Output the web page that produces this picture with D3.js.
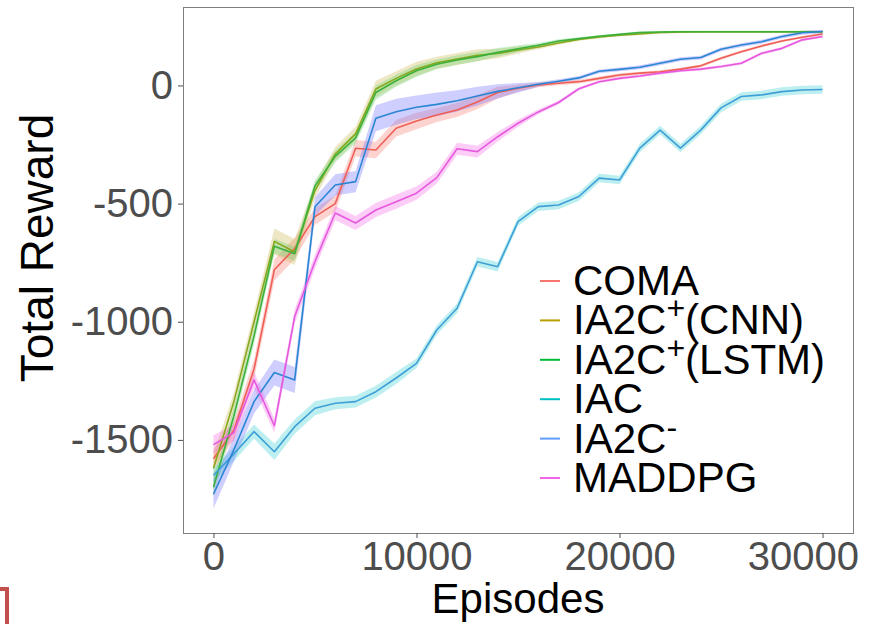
<!DOCTYPE html>
<html lang="en">
<head>
<meta charset="utf-8"/>
<title>Total Reward vs Episodes</title>
<style>
  body { margin: 0; background: #fff; }
  text { font-family: "Liberation Sans", Arial, Helvetica, sans-serif; }
  .axis .domain { display: none; }
  .axis line { stroke: #4d4d4d; stroke-width: 1px; }
  .axis text { fill: #4d4d4d; font-size: 40px; }
</style>
</head>
<body>
<script src="https://d3js.org/d3.v7.min.js"></script>
<div id="chart"></div>
<script>
// ---- data (one point every 1000 episodes) ----
var episodes = [0, 1000, 2000, 3000, 4000, 5000, 6000, 7000, 8000, 9000, 10000,
  11000, 12000, 13000, 14000, 15000, 16000, 17000, 18000, 19000, 20000,
  21000, 22000, 23000, 24000, 25000, 26000, 27000, 28000, 29000, 30000];

var coma = [-1580, -1460, -1200, -780, -690, -555, -500, -266, -273, -181, -150,
  -125, -104, -70, -30, -12, 2, 9, 16, 30, 44, 52, 58, 69, 83, 115, 143, 167, 188, 204, 218];
var comaSpread = [40, 40, 40, 45, 45, 35, 35, 35, 35, 35, 35, 30, 30, 30, 25, 15,
  10, 8, 8, 8, 8, 6, 6, 6, 6, 6, 6, 6, 5, 5, 5];

var cnn = [-1620, -1340, -1000, -660, -705, -445, -290, -205, -15, 30, 70,
  96, 112, 128, 135, 150, 163, 180, 195, 205, 213, 218, 224, 226, 227, 227, 227, 227, 227, 227, 227];
var cnnSpread = [60, 40, 40, 55, 55, 30, 30, 30, 35, 30, 30, 25, 25, 25, 20, 15,
  10, 8, 6, 6, 5, 5, 5, 5, 5, 5, 5, 5, 5, 5, 5];

var lstm = [-1700, -1400, -1060, -680, -712, -425, -300, -222, -30, 20, 62,
  90, 108, 122, 140, 155, 170, 188, 198, 208, 216, 224, 226, 227, 227, 227, 227, 227, 227, 227, 227];
var lstmSpread = [40, 35, 35, 30, 30, 25, 25, 25, 30, 25, 25, 20, 20, 20, 18, 15,
  10, 8, 6, 6, 5, 5, 5, 5, 5, 5, 5, 5, 5, 5, 5];

var iac = [-1650, -1560, -1465, -1550, -1444, -1366, -1345, -1338, -1296, -1238, -1176,
  -1035, -943, -746, -767, -576, -513, -506, -470, -392, -400, -265, -189, -265, -189,
  -95, -47, -40, -26, -19, -17];
var iacSpread = [30, 30, 30, 35, 30, 30, 25, 25, 25, 25, 20, 20, 20, 20, 20, 18,
  18, 18, 18, 18, 18, 18, 18, 18, 18, 18, 18, 18, 18, 18, 18];

var ia2cMinus = [-1730, -1543, -1338, -1215, -1246, -513, -421, -407, -139, -111, -92,
  -80, -65, -45, -25, -10, 5, 18, 32, 60, 68, 77, 94, 111, 118, 153, 171, 185, 207, 223, 228];
var ia2cMinusSpread = [60, 50, 50, 55, 55, 40, 45, 45, 55, 55, 50, 50, 45, 40, 30, 20,
  10, 8, 8, 8, 8, 8, 8, 8, 8, 8, 8, 8, 8, 8, 8];

var maddpg = [-1520, -1470, -1246, -1440, -978, -745, -540, -582, -527, -492, -456,
  -390, -268, -280, -217, -160, -112, -72, -14, 16, 30, 40, 52, 62, 69, 80, 94, 136, 157, 193, 207];
var maddpgSpread = [40, 35, 35, 30, 30, 30, 30, 30, 30, 30, 28, 25, 25, 25, 20, 15,
  10, 8, 6, 6, 6, 6, 6, 6, 6, 6, 6, 6, 6, 6, 6];

var xTicks = [0, 10000, 20000, 30000];
var yTicks = [-1500, -1000, -500, 0];

// legend labels: [main, superscript, rest]
var series = [
  { label: ["COMA", "", ""], values: coma, spread: comaSpread,
    line: "#ef5f57", fill: "#F8766D", key: "#F8766D" },
  { label: ["IA2C", "+", "(CNN)"], values: cnn, spread: cnnSpread,
    line: "#86a81c", fill: "#c9b34a", key: "#B79F00" },
  { label: ["IA2C", "+", "(LSTM)"], values: lstm, spread: lstmSpread,
    line: "#3bb03b", fill: "#5fd06a", key: "#00BA38" },
  { label: ["IAC", "", ""], values: iac, spread: iacSpread,
    line: "#3e9fd6", fill: "#33cdd0", key: "#00BFC4" },
  { label: ["IA2C", "-", ""], values: ia2cMinus, spread: ia2cMinusSpread,
    line: "#2a86d2", fill: "#6a6aff", key: "#619CFF" },
  { label: ["MADDPG", "", ""], values: maddpg, spread: maddpgSpread,
    line: "#e658df", fill: "#F564E3", key: "#F564E3" }
];

// ---- layout ----
var width = 873, height = 624;
var panel = { left: 183, right: 853, top: 7, bottom: 533 };

var svg = d3.select("#chart")
  .append("svg")
    .attr("width", width)
    .attr("height", height);

var x = d3.scaleLinear()
  .domain([-1500, 31500])
  .range([panel.left, panel.right]);

var y = d3.scaleLinear()
  .domain([-1894, 332])
  .range([panel.bottom, panel.top]);

var area = d3.area()
  .x(function(d) { return x(d.x); })
  .y0(function(d) { return y(d.v - d.s); })
  .y1(function(d) { return y(d.v + d.s); });

var line = d3.line()
  .x(function(d) { return x(d.x); })
  .y(function(d) { return y(d.v); });

function points(s) {
  return episodes.map(function(e, i) {
    return { x: e, v: s.values[i], s: s.spread[i] };
  });
}

// ribbons first, then lines on top
svg.append("g").selectAll("path")
    .data(series)
  .enter().append("path")
    .attr("d", function(s) { return area(points(s)); })
    .attr("fill", function(s) { return s.fill; })
    .attr("fill-opacity", 0.32)
    .attr("stroke", "none");

svg.append("g").selectAll("path")
    .data(series)
  .enter().append("path")
    .attr("d", function(s) { return line(points(s)); })
    .attr("fill", "none")
    .attr("stroke", function(s) { return s.line; })
    .attr("stroke-width", 1.6)
    .attr("stroke-linejoin", "round");

// panel border
svg.append("rect")
  .attr("x", panel.left + 0.5)
  .attr("y", panel.top + 0.5)
  .attr("width", panel.right - panel.left)
  .attr("height", panel.bottom - panel.top)
  .attr("fill", "none")
  .attr("stroke", "#7f7f7f")
  .attr("stroke-width", 1);

// axes
var xAxisG = svg.append("g")
  .attr("class", "axis")
  .attr("transform", "translate(0," + panel.bottom + ")")
  .call(d3.axisBottom(x)
    .tickValues(xTicks)
    .tickSize(5)
    .tickPadding(4)
    .tickFormat(function(d) { return String(d); }));

// the last label sits pulled in against the right edge, as in the figure
xAxisG.selectAll(".tick text")
  .filter(function(d) { return d === 30000; })
  .attr("text-anchor", "end")
  .attr("x", 36);

svg.append("g")
  .attr("class", "axis")
  .attr("transform", "translate(" + panel.left + ",0)")
  .call(d3.axisLeft(y)
    .tickValues(yTicks)
    .tickSize(5)
    .tickPadding(5)
    .tickFormat(function(d) { return String(d); }));

// axis titles
svg.append("text")
  .attr("x", 518)
  .attr("y", 613)
  .attr("text-anchor", "middle")
  .attr("font-size", 42)
  .attr("fill", "#000")
  .text("Episodes");

svg.append("text")
  .attr("transform", "translate(53,248) rotate(-90)")
  .attr("text-anchor", "middle")
  .attr("font-size", 46)
  .attr("fill", "#000")
  .text("Total Reward");

// legend
var legend = svg.append("g");
var rowGap = 39.4, firstBaseline = 295;

series.forEach(function(s, i) {
  var by = firstBaseline + i * rowGap;
  legend.append("line")
    .attr("x1", 540).attr("x2", 560)
    .attr("y1", by - 14).attr("y2", by - 14)
    .attr("stroke", s.key)
    .attr("stroke-width", 2);
  var t = legend.append("text")
    .attr("x", 573)
    .attr("y", by)
    .attr("font-size", 42)
    .attr("fill", "#000");
  t.append("tspan").text(s.label[0]);
  if (s.label[1]) {
    t.append("tspan")
      .attr("dy", -15)
      .attr("font-size", 32)
      .text(s.label[1]);
    t.append("tspan")
      .attr("dy", 15)
      .text(s.label[2]);
  }
});

// stray red frame corner at the bottom-left edge
svg.append("path")
  .attr("d", "M0,589H7V624")
  .attr("fill", "none")
  .attr("stroke", "#c4504e")
  .attr("stroke-width", 4);
</script>
</body>
</html>
